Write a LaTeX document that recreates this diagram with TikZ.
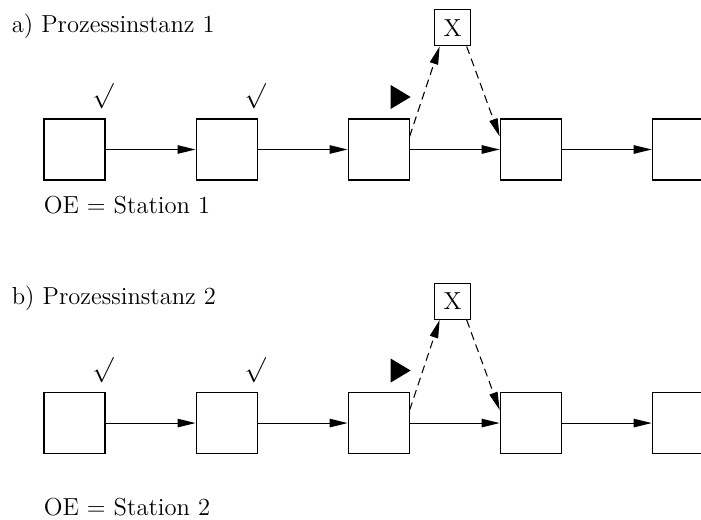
\documentclass[tikz,border=0pt]{standalone}
\usepackage{tikz}
\usetikzlibrary{arrows.meta,positioning}

\begin{document}
\begin{tikzpicture}[node distance=1.8cm,
    every node/.style={font=\fontsize{14}{17}\selectfont},
    procbox/.style={draw, line width=0.6pt, minimum size=1.22cm, inner sep=0pt},
    xbox/.style={draw, line width=0.6pt, minimum size=0.72cm, inner sep=0pt},
    flow/.style={line width=0.6pt, -{Triangle[length=3.6mm,width=1.7mm]}},
    jump/.style={flow, dash pattern=on 0.16cm off 0.1cm},
    done/.style={inner sep=0pt}]
    \useasboundingbox (0,0) rectangle (14.02,-10.4);
    \clip (0,0) rectangle (14.02,-10.4);

    % a) Prozessinstanz 1
    \node[anchor=base west, inner sep=0pt] (titlea) at (0.23,-0.65) {a) Prozessinstanz 1};
    \node[procbox] (a1) at (1.49,-2.99) {};
    \node[procbox, right=of a1] (a2) {};
    \node[procbox, right=of a2] (a3) {};
    \node[procbox, right=of a3] (a4) {};
    \node[procbox, right=of a4] (a5) {};
    \node[xbox, above right=1.44cm and 0.49cm of a3.north east] (xa) {X};
    \node[done, above=0.18cm of a1.north east, xshift=-0.05cm] (ca1) {$\surd$};
    \node[done, above=0.18cm of a2.north east, xshift=-0.05cm] (ca2) {$\surd$};
    \coordinate[above=0.43cm of a3.north east, xshift=-0.18cm] (tria);
    \fill (tria) ++(-0.2,0.24) -- ++(0,-0.48) -- ++(0.4,0.24) -- cycle;
    \node[inner sep=0pt, below right=0.3cm and 0cm of a1.south west] (oea) {OE = Station 1};

    \draw[flow] (a1) -- (a2);
    \draw[flow] (a2) -- (a3);
    \draw[flow] (a3) -- (a4);
    \draw[flow] (a4) -- (a5);
    \draw[jump] ([yshift=-0.36cm]a3.north east) -- ([xshift=0.11cm]xa.south west);
    \draw[jump] ([xshift=-0.09cm]xa.south east) -- ([yshift=-0.36cm]a4.north west);

    % b) Prozessinstanz 2
    \node[anchor=base west, inner sep=0pt] (titleb) at (0.23,-6.1) {b) Prozessinstanz 2};
    \node[procbox, below=4.23cm of a1] (b1) {};
    \node[procbox, right=of b1] (b2) {};
    \node[procbox, right=of b2] (b3) {};
    \node[procbox, right=of b3] (b4) {};
    \node[procbox, right=of b4] (b5) {};
    \node[xbox, above right=1.44cm and 0.49cm of b3.north east] (xb) {X};
    \node[done, above=0.18cm of b1.north east, xshift=-0.05cm] (cb1) {$\surd$};
    \node[done, above=0.18cm of b2.north east, xshift=-0.05cm] (cb2) {$\surd$};
    \coordinate[above=0.43cm of b3.north east, xshift=-0.18cm] (trib);
    \fill (trib) ++(-0.2,0.24) -- ++(0,-0.48) -- ++(0.4,0.24) -- cycle;
    \node[inner sep=0pt, below right=0.87cm and 0cm of b1.south west] (oeb) {OE = Station 2};

    \draw[flow] (b1) -- (b2);
    \draw[flow] (b2) -- (b3);
    \draw[flow] (b3) -- (b4);
    \draw[flow] (b4) -- (b5);
    \draw[jump] ([yshift=-0.36cm]b3.north east) -- ([xshift=0.11cm]xb.south west);
    \draw[jump] ([xshift=-0.09cm]xb.south east) -- ([yshift=-0.36cm]b4.north west);
\end{tikzpicture}
\end{document}
